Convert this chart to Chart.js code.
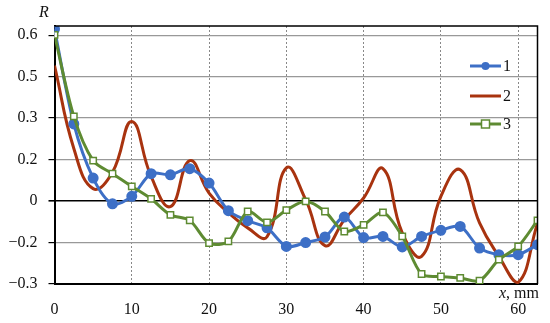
<!DOCTYPE html>
<html><head><meta charset="utf-8">
<script src="https://cdn.jsdelivr.net/npm/chart.js@4/dist/chart.umd.min.js"></script>
<style>html,body{margin:0;padding:0;background:#fff}#w{width:550px;height:323px;position:relative}</style>
</head><body><div id="w"><canvas id="c" width="550" height="323"></canvas></div>
<script>
const X_MM = [0,2.5,5,7.5,10,12.5,15,17.5,20,22.5,25,27.5,30,32.5,35,37.5,40,42.5,45,47.5,50,52.5,55,57.5,60,62.5];
const SERIES_1 = [0.622,0.279,0.083,-0.010,0.017,0.099,0.095,0.117,0.065,-0.035,-0.071,-0.097,-0.164,-0.150,-0.130,-0.058,-0.132,-0.128,-0.166,-0.128,-0.106,-0.092,-0.170,-0.194,-0.194,-0.158];
const SERIES_2 = [0.490,0.190,0.045,0.104,0.288,0.089,-0.020,0.146,0.029,-0.042,-0.097,-0.129,0.120,0.005,-0.161,-0.068,0.011,0.117,-0.115,-0.200,0.017,0.113,-0.079,-0.200,-0.294,-0.080];
const SERIES_3 = [0.601,0.306,0.146,0.099,0.053,0.008,-0.050,-0.070,-0.152,-0.146,-0.038,-0.077,-0.033,-0.001,-0.038,-0.110,-0.086,-0.041,-0.128,-0.264,-0.273,-0.278,-0.288,-0.212,-0.164,-0.070];
const SERIES_NAMES = ['1','2','3'];
const X_TICKS = [0,10,20,30,40,50,60];
// y ticks are every 0.15; the printed labels are rounded as in the original
const Y_TICK_VALUES = [-0.3,-0.15,0,0.15,0.3,0.45,0.6];
const Y_TICK_LABELS = ['\u22120.3','\u22120.2','0','0.2','0.3','0.5','0.6'];

const COLORS = ['#3d6fc6','#a8330f','#5e8b32'];
const FONT = 'Liberation Serif';

function pts(arr){ return X_MM.map((x,i)=>({x:x,y:arr[i]})); }

const frame = {
  id:'frame',
  afterDraw(chart){
    const {ctx, chartArea:a} = chart;
    ctx.save();
    ctx.strokeStyle='#000';
    ctx.lineWidth=1.5;
    ctx.beginPath();
    ctx.moveTo(a.left,a.top); ctx.lineTo(a.right,a.top); ctx.lineTo(a.right,a.bottom);
    ctx.stroke();
    // legend
    const items=[{y:66},{y:96},{y:124}];
    const ds=chart.data.datasets;
    items.forEach((it,i)=>{
      const d=ds[i];
      ctx.strokeStyle=d.borderColor; ctx.lineWidth=3;
      ctx.beginPath(); ctx.moveTo(470,it.y); ctx.lineTo(501,it.y); ctx.stroke();
      if(i===0){ ctx.fillStyle=d.borderColor; ctx.beginPath(); ctx.arc(485.5,it.y,4,0,Math.PI*2); ctx.fill(); }
      if(i===2){ ctx.fillStyle='#fff'; ctx.fillRect(481.5,it.y-4,8,8); ctx.strokeStyle=d.borderColor; ctx.lineWidth=1.5; ctx.strokeRect(481.5,it.y-4,8,8); }
      ctx.fillStyle='#111'; ctx.font='16px "'+FONT+'"'; ctx.textBaseline='middle'; ctx.textAlign='left';
      ctx.fillText(SERIES_NAMES[i],503,it.y+1);
    });
    // axis titles
    ctx.fillStyle='#111';
    ctx.font='italic 16px "'+FONT+'"'; ctx.textAlign='center'; ctx.textBaseline='middle';
    ctx.fillText('R',44,13);
    ctx.textAlign='left';
    ctx.font='italic 16px "'+FONT+'"';
    const xw=ctx.measureText('x').width;
    ctx.font='16px "'+FONT+'"';
    const rw=ctx.measureText(', mm').width;
    const sx=539-xw-rw;
    ctx.font='italic 16px "'+FONT+'"'; ctx.fillText('x',sx,294);
    ctx.font='16px "'+FONT+'"'; ctx.fillText(', mm',sx+xw,294);
    ctx.restore();
  }
};

new Chart(document.getElementById('c'),{
  type:'line',
  data:{datasets:[
    {label:SERIES_NAMES[0],data:pts(SERIES_1),borderColor:COLORS[0],backgroundColor:COLORS[0],borderWidth:3,pointRadius:4,pointHoverRadius:4,pointStyle:'circle',tension:0.3,order:2},
    {label:SERIES_NAMES[1],data:pts(SERIES_2),borderColor:COLORS[1],backgroundColor:COLORS[1],borderWidth:3,pointRadius:0,tension:0.45,order:3},
    {label:SERIES_NAMES[2],data:pts(SERIES_3),borderColor:COLORS[2],backgroundColor:'#fff',borderWidth:3,pointBorderWidth:1.5,pointRadius:4.5,pointHoverRadius:4.5,pointStyle:'rect',tension:0.3,order:1}
  ]},
  options:{
    responsive:false, animation:false, devicePixelRatio:1,
    layout:{padding:{top:26,right:12.5,left:0,bottom:0}},
    plugins:{legend:{display:false},tooltip:{enabled:false}},
    scales:{
      x:{type:'linear',min:0,max:62.5,
        afterBuildTicks(s){ s.ticks = X_TICKS.map(v=>({value:v})); },
        afterFit(s){ s.height=39; },
        ticks:{font:{family:FONT,size:16},color:'#111',padding:16,maxRotation:0},
        grid:{color:(c)=>c.tick&&c.tick.value===0?'rgba(0,0,0,0)':'#888',lineWidth:1,drawTicks:false},
        border:{color:'#000',width:2,dash:[2,2]}
      },
      y:{type:'linear',min:-0.3,max:0.633,
        afterBuildTicks(s){ s.ticks = Y_TICK_VALUES.map(v=>({value:v})); },
        afterFit(s){ s.width=54.5; },
        ticks:{font:{family:FONT,size:16},color:'#111',padding:11,
          callback:(v)=>{ const i=Y_TICK_VALUES.findIndex(t=>Math.abs(t-v)<1e-6); return i>=0?Y_TICK_LABELS[i]:''; }},
        grid:{color:(c)=>c.tick&&Math.abs(c.tick.value)<1e-6?'#000':'#999',lineWidth:(c)=>c.tick&&Math.abs(c.tick.value)<1e-6?1.6:1.2,tickColor:'#000',tickLength:6},
        border:{color:'#000',width:2}
      }
    }
  },
  plugins:[frame]
});
</script>
</body></html>
